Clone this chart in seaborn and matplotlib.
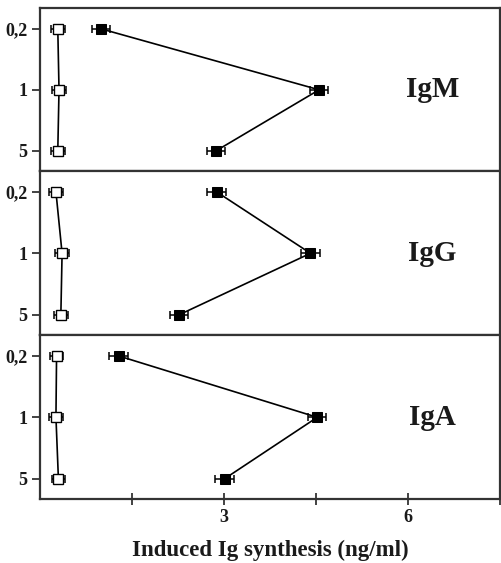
import numpy as np
import pandas as pd
import matplotlib
matplotlib.use('Agg')
import matplotlib.pyplot as plt
import seaborn as sns

# %% Data
doses = ['0,2', '1', '5']
panels = ['IgM', 'IgG', 'IgA']

igm_ctrl = [0.29, 0.31, 0.29]
igm_stim = [0.99, 4.55, 2.87]
igg_ctrl = [0.26, 0.36, 0.34]
igg_stim = [2.88, 4.41, 2.27]
iga_ctrl = [0.27, 0.26, 0.30]
iga_stim = [1.28, 4.52, 3.01]

ctrl_err = [0.11, 0.11, 0.11]
stim_err = [0.15, 0.15, 0.15]

xticks = [1.5, 3, 4.5, 6, 7.5]
xticklabels = ['', '3', '', '6', '']

series = {
    'IgM': (igm_ctrl, igm_stim),
    'IgG': (igg_ctrl, igg_stim),
    'IgA': (iga_ctrl, iga_stim),
}

# %% Style
sns.set_style('ticks')
plt.rcParams['font.family'] = ['Liberation Serif', 'DejaVu Serif']
plt.rcParams['font.weight'] = 'bold'
plt.rcParams['axes.labelweight'] = 'bold'
plt.rcParams['text.color'] = '#1a1a1a'

fig = plt.figure(figsize=(5.01, 5.63), dpi=100)
left, width = 40 / 501, 460 / 501
tops = [8, 171, 335]
bottoms = [171, 335, 499]

pos = np.arange(len(doses))
for i, name in enumerate(panels):
    b = 1 - bottoms[i] / 563
    h = (bottoms[i] - tops[i]) / 563
    ax = fig.add_axes([left, b, width, h])
    ctrl, stim = series[name]
    df = pd.DataFrame({'dose': pos, 'ctrl': ctrl, 'stim': stim})

    ax.errorbar(df['ctrl'], df['dose'], xerr=ctrl_err, fmt='none',
                ecolor='black', elinewidth=1.1, capsize=3, capthick=1.1, zorder=2)
    ax.errorbar(df['stim'], df['dose'], xerr=stim_err, fmt='none',
                ecolor='black', elinewidth=1.1, capsize=3, capthick=1.1, zorder=2)
    sns.lineplot(data=df, x='ctrl', y='dose', orient='y', sort=False,
                 estimator=None, ax=ax, color='black',
                 lw=1.2, marker='s', markersize=6.5, markerfacecolor='white',
                 markeredgecolor='black', markeredgewidth=1.0, zorder=3)
    sns.lineplot(data=df, x='stim', y='dose', orient='y', sort=False,
                 estimator=None, ax=ax, color='black',
                 lw=1.2, marker='s', markersize=6.5, markerfacecolor='black',
                 markeredgecolor='black', zorder=3)

    ax.text(6.4, 1, name, ha='center', va='center', fontsize=21,
            fontweight='bold')

    ax.set_xlim(0, 7.5)
    ax.set_ylim(2.33, -0.34)
    ax.set_yticks(pos)
    ax.set_yticklabels(doses, fontsize=13, fontweight='bold')
    ax.tick_params(axis='y', direction='out', length=6, width=1.2, pad=3,
                   color='#222222', labelcolor='#1a1a1a')
    ax.set_ylabel('')
    for s in ax.spines.values():
        s.set_linewidth(1.6)
        s.set_color('#333333')
    if i < 2:
        ax.set_xticks([])
        ax.set_xlabel('')
    else:
        ax.set_xticks(xticks)
        ax.set_xticklabels(xticklabels, fontsize=13, fontweight='bold')
        ax.tick_params(axis='x', direction='inout', length=9, width=1.2,
                       pad=3, color='#222222', labelcolor='#1a1a1a')
        ax.set_xlabel('Induced Ig synthesis (ng/ml)', fontsize=16.5,
                      fontweight='bold', labelpad=10, color='#1a1a1a')

fig.savefig('out.png', dpi=100)
